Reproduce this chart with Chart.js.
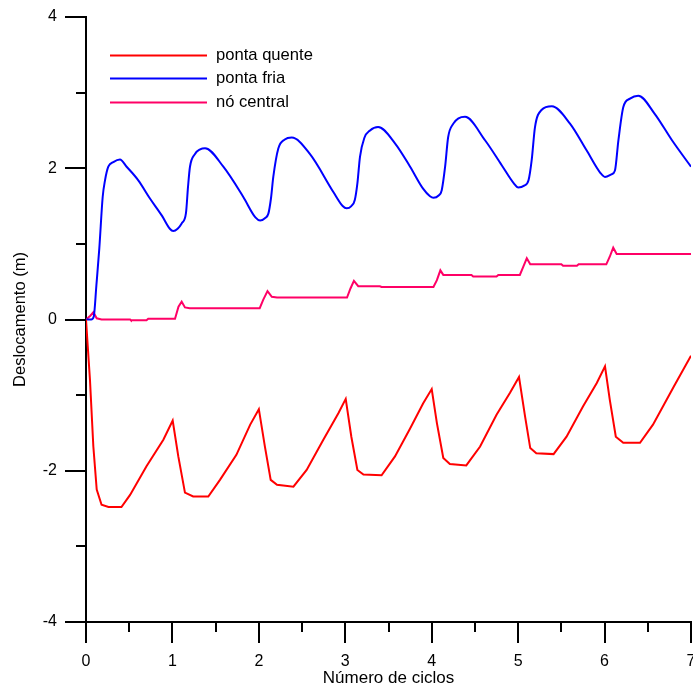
<!DOCTYPE html>
<html>
<head>
<meta charset="utf-8">
<title>Deslocamento</title>
<script src="https://cdn.jsdelivr.net/npm/chart.js@4/dist/chart.umd.min.js"></script>
<style>
  html, body { margin: 0; padding: 0; background: #fff; }
  canvas { display: block; }
</style>
</head>
<body>
<canvas id="c" width="693" height="689"></canvas>
<script>
// Deslocamento das extremidades e do nó central ao longo dos ciclos
const seriesNames = ['ponta quente', 'ponta fria', 'nó central'];
const seriesColors = ['#ff0000', '#0000ff', '#ff0066'];
const seriesSmooth = [false, true, false];

const quenteX = [0, 0.02, 0.046, 0.085, 0.124, 0.18, 0.26, 0.41, 0.51, 0.70, 0.895, 1.003,
  1.068, 1.145, 1.24, 1.415, 1.55, 1.74, 1.90, 2.00, 2.07, 2.137, 2.21, 2.40, 2.553, 2.746,
  2.92, 3.005, 3.07, 3.14, 3.21, 3.42, 3.575, 3.75, 3.90, 4.00, 4.06, 4.134, 4.21, 4.40,
  4.56, 4.75, 4.906, 5.01, 5.08, 5.14, 5.21, 5.41, 5.56, 5.75, 5.91, 6.005, 6.06, 6.13,
  6.216, 6.41, 6.56, 6.80, 7.0];
const quenteY = [0, -0.35, -0.80, -1.68, -2.25, -2.45, -2.48, -2.48, -2.32, -1.94, -1.59, -1.336,
  -1.81, -2.29, -2.34, -2.34, -2.12, -1.79, -1.39, -1.186, -1.68, -2.12, -2.185, -2.21, -1.99, -1.59,
  -1.24, -1.05, -1.55, -1.99, -2.05, -2.06, -1.81, -1.44, -1.11, -0.92, -1.37, -1.83, -1.91, -1.93,
  -1.68, -1.26, -0.97, -0.76, -1.28, -1.70, -1.77, -1.78, -1.55, -1.15, -0.84, -0.62, -1.06, -1.55,
  -1.63, -1.63, -1.39, -0.89, -0.48];

const friaX = [0, 0.06, 0.09, 0.12, 0.154, 0.193, 0.22, 0.258, 0.316, 0.393, 0.47, 0.605, 0.74,
  0.88, 0.97, 1.01, 1.06, 1.107, 1.157, 1.18, 1.203, 1.261, 1.32, 1.377, 1.589, 1.82, 1.96,
  2.014, 2.07, 2.11, 2.14, 2.167, 2.225, 2.30, 2.38, 2.59, 2.86, 2.97, 3.016, 3.07, 3.11,
  3.14, 3.17, 3.22, 3.286, 3.38, 3.575, 3.75, 3.90, 3.98, 4.02, 4.08, 4.116, 4.155, 4.19,
  4.25, 4.31, 4.385, 4.617, 4.81, 4.95, 5.002, 5.07, 5.12, 5.157, 5.195, 5.27, 5.39, 5.60,
  5.79, 5.95, 6.005, 6.08, 6.12, 6.16, 6.217, 6.294, 6.39, 6.58, 6.78, 7.0];
const friaY = [0, 0.0, 0.04, 0.45, 0.94, 1.62, 1.84, 2.02, 2.08, 2.115, 2.02, 1.84, 1.60,
  1.37, 1.20, 1.17, 1.20, 1.27, 1.41, 1.75, 2.02, 2.19, 2.25, 2.265, 2.02, 1.62, 1.35,
  1.31, 1.34, 1.40, 1.60, 1.885, 2.26, 2.38, 2.405, 2.19, 1.69, 1.50, 1.47, 1.50, 1.58,
  1.80, 2.15, 2.40, 2.50, 2.545, 2.33, 2.02, 1.73, 1.63, 1.61, 1.64, 1.71, 2.02, 2.41,
  2.59, 2.66, 2.68, 2.37, 2.04, 1.80, 1.745, 1.77, 1.84, 2.11, 2.545, 2.77, 2.82, 2.59,
  2.24, 1.94, 1.885, 1.92, 1.97, 2.37, 2.81, 2.92, 2.96, 2.72, 2.37, 2.02];

const centralX = [0, 0.05, 0.085, 0.124, 0.18, 0.51, 0.52, 0.70, 0.72, 1.03, 1.07, 1.107,
  1.145, 1.20, 2.01, 2.05, 2.10, 2.15, 2.21, 3.02, 3.06, 3.10, 3.15, 3.40, 3.42, 4.02,
  4.06, 4.10, 4.134, 4.46, 4.48, 4.75, 4.77, 5.02, 5.06, 5.10, 5.14, 5.50, 5.52, 5.68,
  5.70, 6.02, 6.06, 6.10, 6.14, 7.0];
const centralY = [0, 0.05, 0.095, 0.016, 0.0, 0.0, -0.01, -0.01, 0.01, 0.01, 0.17, 0.235,
  0.16, 0.15, 0.15, 0.26, 0.375, 0.30, 0.29, 0.29, 0.41, 0.51, 0.44, 0.44, 0.43, 0.43,
  0.52, 0.65, 0.59, 0.59, 0.57, 0.57, 0.59, 0.59, 0.70, 0.81, 0.73, 0.73, 0.71, 0.71,
  0.73, 0.73, 0.83, 0.95, 0.865, 0.865];

const xTickValues = [0, 1, 2, 3, 4, 5, 6, 7];
const yTickValues = [-4, -2, 0, 2, 4];

const pairs = (xs, ys) => xs.map((x, i) => ({ x: x, y: ys[i] }));
const seriesX = [quenteX, friaX, centralX];
const seriesY = [quenteY, friaY, centralY];

const datasets = seriesNames.map((name, i) => ({
  label: name,
  data: pairs(seriesX[i], seriesY[i]),
  borderColor: seriesColors[i],
  backgroundColor: seriesColors[i],
  borderWidth: 2,
  pointRadius: 0,
  cubicInterpolationMode: seriesSmooth[i] ? 'monotone' : 'default',
  tension: 0,
  fill: false
}));

// Major and minor tick marks drawn outward from both axes
const tickMarks = {
  id: 'tickMarks',
  afterDraw(chart) {
    const ctx = chart.ctx;
    const xs = chart.scales.x, ys = chart.scales.y;
    const area = chart.chartArea;
    ctx.save();
    ctx.strokeStyle = '#000';
    ctx.lineWidth = 2;
    ctx.beginPath();
    for (let v = xs.min; v <= xs.max + 1e-9; v += 0.5) {
      const px = Math.round(xs.getPixelForValue(v));
      const len = Number.isInteger(v) ? 21 : 10;
      ctx.moveTo(px, area.bottom);
      ctx.lineTo(px, area.bottom + len);
    }
    for (let v = ys.min; v <= ys.max + 1e-9; v += 1) {
      const py = Math.round(ys.getPixelForValue(v));
      const len = (v % 2 === 0) ? 21 : 10;
      ctx.moveTo(area.left - len, py);
      ctx.lineTo(area.left, py);
    }
    ctx.stroke();
    ctx.restore();
  }
};

// Legend inside the plot area, upper left
const innerLegend = {
  id: 'innerLegend',
  afterDraw(chart) {
    const ctx = chart.ctx;
    const area = chart.chartArea;
    ctx.save();
    ctx.font = '16.6px "Liberation Sans", Arial, sans-serif';
    ctx.textBaseline = 'middle';
    ctx.fillStyle = '#000';
    chart.data.datasets.forEach((ds, i) => {
      const y = Math.round(area.top + 37.5 + i * 23.6) + 0.5;
      ctx.strokeStyle = ds.borderColor;
      ctx.lineWidth = 2;
      ctx.beginPath();
      ctx.moveTo(area.left + 24, y);
      ctx.lineTo(area.left + 121, y);
      ctx.stroke();
      ctx.fillText(ds.label, area.left + 130, y);
    });
    ctx.restore();
  }
};

Chart.defaults.font.family = '"Liberation Sans", Arial, sans-serif';
Chart.defaults.font.size = 16;
Chart.defaults.color = '#000';

new Chart(document.getElementById('c'), {
  type: 'line',
  data: { datasets: datasets },
  options: {
    responsive: false,
    animation: false,
    events: [],
    layout: { padding: { top: 17, right: 2, left: 0, bottom: 0 } },
    plugins: { legend: { display: false }, tooltip: { enabled: false } },
    scales: {
      x: {
        type: 'linear',
        min: 0,
        max: 7,
        afterBuildTicks: (s) => { s.ticks = xTickValues.map(v => ({ value: v })); },
        afterFit: (s) => { s.height = 67; s.paddingLeft = 0; s.paddingRight = 0; },
        grid: { display: false, drawTicks: false },
        border: { display: true, color: '#000', width: 2 },
        ticks: { padding: 30, maxRotation: 0, autoSkip: false, font: { size: 16 } },
        title: { display: true, text: 'Número de ciclos', font: { size: 17 }, padding: { top: 0, bottom: 0 } }
      },
      y: {
        type: 'linear',
        min: -4,
        max: 4,
        afterBuildTicks: (s) => { s.ticks = yTickValues.map(v => ({ value: v })); },
        afterFit: (s) => { s.width = 86; s.paddingTop = 0; s.paddingBottom = 0; },
        grid: { display: false, drawTicks: false },
        border: { display: true, color: '#000', width: 2 },
        ticks: { padding: 29, autoSkip: false, font: { size: 16 } },
        title: { display: true, text: 'Deslocamento (m)', font: { size: 16.5 }, padding: { top: 11, bottom: 0 } }
      }
    }
  },
  plugins: [tickMarks, innerLegend]
});
</script>
</body>
</html>
